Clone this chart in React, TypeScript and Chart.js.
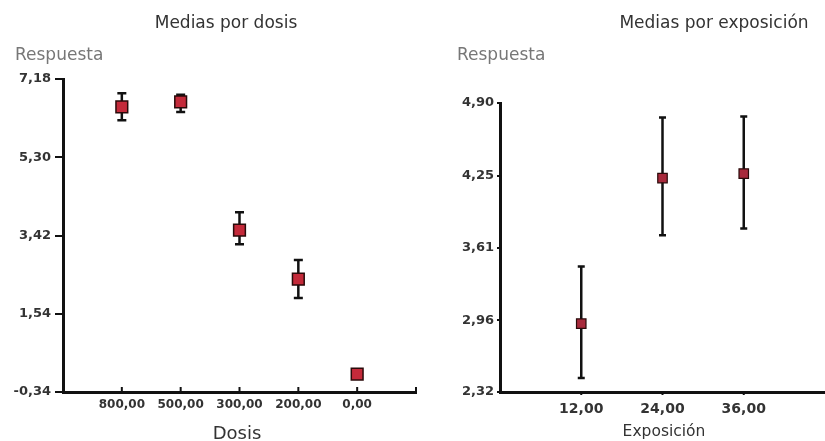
import React, { useEffect, useRef } from "react";
import { Chart, registerables } from "chart.js";

Chart.register(...registerables);

// ---- Data: Medias por dosis ----
const dosisLabels = ["800,00", "500,00", "300,00", "200,00", "0,00"];
const dosisMeans = [6.51, 6.63, 3.55, 2.37, 0.09];
const dosisLower = [6.19, 6.39, 3.21, 1.92, 0.02];
const dosisUpper = [6.84, 6.8, 3.98, 2.83, 0.16];
const dosisYTicks = [-0.34, 1.54, 3.42, 5.3, 7.18];

// ---- Data: Medias por exposición ----
const expoValues = [12, 24, 36];
const expoLabels = ["12,00", "24,00", "36,00"];
const expoMeans = [2.93, 4.23, 4.27];
const expoLower = [2.445, 3.72, 3.78];
const expoUpper = [3.44, 4.77, 4.78];
const expoYTicks = [2.32, 2.96, 3.61, 4.25, 4.9];

const FONT = "'DejaVu Sans', Verdana, sans-serif";
const fmt = (v: number) => v.toFixed(2).replace(".", ",");

function errorBarPlugin(lower: number[], upper: number[], xs: number[], cap: number, lw: number) {
  return {
    id: "errbars",
    beforeDatasetsDraw(chart: any) {
      const ctx = chart.ctx;
      const xS = chart.scales.x;
      const yS = chart.scales.y;
      ctx.save();
      ctx.strokeStyle = "#111";
      ctx.lineWidth = lw;
      for (let i = 0; i < xs.length; i++) {
        const px = xS.getPixelForValue(xs[i]);
        const yl = yS.getPixelForValue(lower[i]);
        const yu = yS.getPixelForValue(upper[i]);
        ctx.beginPath();
        ctx.moveTo(px, yl);
        ctx.lineTo(px, yu);
        ctx.moveTo(px - cap, yl);
        ctx.lineTo(px + cap, yl);
        ctx.moveTo(px - cap, yu);
        ctx.lineTo(px + cap, yu);
        ctx.stroke();
      }
      ctx.restore();
    },
  };
}

function xTickPlugin(xs: number[], len: number, inward: boolean) {
  return {
    id: "xticks",
    afterDraw(chart: any) {
      const ctx = chart.ctx;
      const xS = chart.scales.x;
      const y0 = chart.chartArea.bottom;
      ctx.save();
      ctx.strokeStyle = "#111";
      ctx.lineWidth = 2;
      for (const v of xs) {
        const px = xS.getPixelForValue(v);
        ctx.beginPath();
        ctx.moveTo(px, y0);
        ctx.lineTo(px, inward ? y0 - len : y0 + len);
        ctx.stroke();
      }
      ctx.restore();
    },
  };
}

function makeOptions(cfg: {
  xMin: number;
  xMax: number;
  xTicks: number[];
  xLabel: (v: number) => string;
  xFont: any;
  xPad: number;
  yMin: number;
  yMax: number;
  yTicks: number[];
  yWidth: number;
  yTickLen: number;
  yPad: number;
  top: number;
  right: number;
}) {
  return {
    responsive: false,
    animation: false as const,
    layout: { autoPadding: false, padding: { top: cfg.top, right: cfg.right, left: 0, bottom: 0 } },
    plugins: { legend: { display: false }, tooltip: { enabled: false }, title: { display: false } },
    scales: {
      x: {
        type: "linear" as const,
        min: cfg.xMin,
        max: cfg.xMax,
        afterBuildTicks: (s: any) => {
          s.ticks = [cfg.xMin, ...cfg.xTicks, cfg.xMax].map((v) => ({ value: v }));
        },
        afterFit: (s: any) => {
          s.height = 49;
          s.paddingLeft = 0;
          s.paddingRight = 0;
        },
        grid: { display: false, drawTicks: false },
        border: { display: true, color: "#111", width: 3 },
        ticks: {
          color: "#333",
          font: cfg.xFont,
          padding: cfg.xPad,
          autoSkip: false,
          maxRotation: 0,
          callback: (v: any) => cfg.xLabel(Number(v)),
        },
      },
      y: {
        type: "linear" as const,
        min: cfg.yMin,
        max: cfg.yMax,
        afterBuildTicks: (s: any) => {
          s.ticks = cfg.yTicks.map((v) => ({ value: v }));
        },
        afterFit: (s: any) => {
          s.width = cfg.yWidth;
        },
        grid: { drawOnChartArea: false, drawTicks: true, tickLength: cfg.yTickLen, color: "#111", lineWidth: 2 },
        border: { display: true, color: "#111", width: 3 },
        ticks: {
          color: "#333",
          font: { family: FONT, size: 13, weight: "bold" },
          padding: cfg.yPad,
          autoSkip: false,
          callback: (v: any) => fmt(Number(v)),
        },
      },
    },
  };
}

export default function App() {
  const leftRef = useRef<HTMLCanvasElement>(null);
  const rightRef = useRef<HTMLCanvasElement>(null);

  useEffect(() => {
    const dosisX = dosisLabels.map((_, i) => i + 1);
    const left = new Chart(leftRef.current!, {
      type: "scatter",
      data: {
        datasets: [
          {
            data: dosisX.map((x, i) => ({ x, y: dosisMeans[i] })),
            pointStyle: "rect",
            pointRadius: 8.3,
            backgroundColor: "#c42a3a",
            borderColor: "#2a0a0a",
            borderWidth: 1.5,
          },
        ],
      },
      options: makeOptions({
        xMin: 0,
        xMax: dosisLabels.length + 1,
        xTicks: dosisX,
        xLabel: (v) => dosisLabels[v - 1] ?? "",
        xFont: { family: FONT, size: 12, weight: "bold" },
        xPad: 6,
        yMin: dosisYTicks[0],
        yMax: dosisYTicks[dosisYTicks.length - 1],
        yTicks: dosisYTicks,
        yWidth: 63,
        yTickLen: 8,
        yPad: 4,
        top: 79,
        right: 4,
      }) as any,
      plugins: [
        errorBarPlugin(dosisLower, dosisUpper, dosisX, 4.5, 2.5),
        xTickPlugin([...dosisX, dosisLabels.length + 1], 5, true),
      ],
    });

    const right = new Chart(rightRef.current!, {
      type: "scatter",
      data: {
        datasets: [
          {
            data: expoValues.map((x, i) => ({ x, y: expoMeans[i] })),
            pointStyle: "rect",
            pointRadius: 6.7,
            backgroundColor: "#a82a3c",
            borderColor: "#2a0a0a",
            borderWidth: 1.2,
          },
        ],
      },
      options: makeOptions({
        xMin: 0,
        xMax: 48,
        xTicks: expoValues,
        xLabel: (v) => expoLabels[expoValues.indexOf(v)] ?? "",
        xFont: { family: FONT, size: 14, weight: "bold" },
        xPad: 9,
        yMin: expoYTicks[0],
        yMax: expoYTicks[expoYTicks.length - 1],
        yTicks: expoYTicks,
        yWidth: 80,
        yTickLen: 3,
        yPad: 3,
        top: 103,
        right: 0,
      }) as any,
      plugins: [
        errorBarPlugin(expoLower, expoUpper, expoValues, 3.5, 2.5),
        xTickPlugin(expoValues, 3, false),
      ],
    });

    return () => {
      left.destroy();
      right.destroy();
    };
  }, []);

  const txt = (style: React.CSSProperties, s: string) => (
    <div style={{ position: "absolute", fontFamily: FONT, whiteSpace: "nowrap", ...style }}>{s}</div>
  );

  return (
    <div style={{ position: "fixed", left: 0, top: 0, width: 825, height: 441, background: "#fff", overflow: "hidden" }}>
      <canvas ref={leftRef} width={420} height={441} style={{ position: "absolute", left: 0, top: 0 }} />
      <canvas ref={rightRef} width={405} height={441} style={{ position: "absolute", left: 420, top: 0 }} />
      {txt({ left: 76, top: 12, width: 300, textAlign: "center", fontSize: 17, lineHeight: "20px", color: "#333" }, "Medias por dosis")}
      {txt({ left: 15, top: 44, fontSize: 17, lineHeight: "20px", color: "#777" }, "Respuesta")}
      {txt({ left: 137, top: 422, width: 200, textAlign: "center", fontSize: 18, lineHeight: "22px", color: "#333" }, "Dosis")}
      {txt({ left: 564, top: 12, width: 300, textAlign: "center", fontSize: 17, lineHeight: "20px", color: "#333" }, "Medias por exposición")}
      {txt({ left: 457, top: 44, fontSize: 17, lineHeight: "20px", color: "#777" }, "Respuesta")}
      {txt({ left: 564, top: 421, width: 200, textAlign: "center", fontSize: 15.5, lineHeight: "20px", color: "#333" }, "Exposición")}
    </div>
  );
}
